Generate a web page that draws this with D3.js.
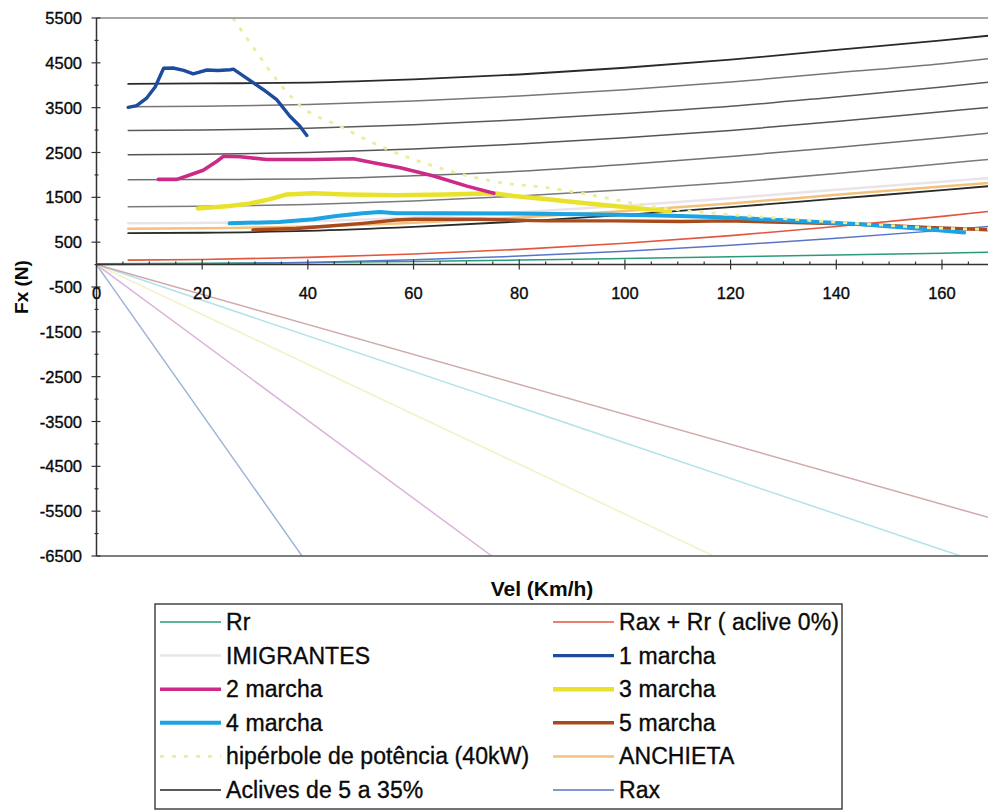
<!DOCTYPE html>
<html>
<head>
<meta charset="utf-8">
<script src="https://cdn.jsdelivr.net/npm/d3@7/dist/d3.min.js"></script>
<style>
  body { margin: 0; background: #fff; }
  svg { display: block; }
  text { font-family: "Liberation Sans", Arial, sans-serif; fill: #0a0a0a; }
  text.heavy { stroke: #0a0a0a; stroke-width: 0.35px; }
</style>
</head>
<body>
<svg id="chart" width="988" height="812"></svg>
<script>
// ---- Data: tractive force Fx (N) against speed (km/h) ----

// speed grid shared by the grade and resistance curves
const velGrid = [6, 20, 40, 60, 80, 100, 120, 140, 160, 170];

// grade resistance curves, 5% .. 35%
const aclive05 = [700, 710, 750, 840, 960, 1110, 1280, 1470, 1660, 1760];
const aclive10 = [1290, 1300, 1340, 1420, 1530, 1670, 1830, 2030, 2250, 2360];
const aclive15 = [1890, 1895, 1910, 1980, 2080, 2230, 2410, 2610, 2830, 2945];
const aclive20 = [2450, 2460, 2500, 2580, 2690, 2830, 2990, 3190, 3410, 3520];
const aclive25 = [2990, 3000, 3040, 3120, 3230, 3370, 3530, 3740, 3960, 4080];
const aclive30 = [3520, 3530, 3570, 3650, 3760, 3900, 4070, 4280, 4480, 4610];
const aclive35 = [4030, 4040, 4060, 4130, 4240, 4390, 4570, 4790, 5000, 5120];

// road profiles
const imigrantes = [920, 930, 965, 1050, 1170, 1310, 1480, 1670, 1850, 1940];
const anchieta   = [800, 810, 850, 935, 1050, 1195, 1365, 1555, 1740, 1830];

// resistances on level road
const velResist = [0, 20, 40, 60, 80, 100, 120, 140, 160, 170];
const rr   = [20, 30, 45, 70, 100, 135, 175, 215, 255, 278];
const rax  = [0, 12, 48, 107, 190, 298, 430, 585, 763, 860];
const velRaxRr = [6, 20, 40, 60, 80, 100, 120, 140, 160, 170];
const raxRr = [100, 115, 160, 235, 340, 475, 645, 850, 1075, 1200];

// measured traction per gear: [speed, force]
const marcha1 = [[6.0,3507],[7.6,3545],[9.5,3715],[11.1,3960],[12.7,4380],[14.5,4385],[16.5,4330],
  [18.3,4255],[20.9,4340],[23.0,4330],[25.3,4345],[25.9,4360],[28.4,4160],[31.6,3900],[34.1,3680],
  [36.6,3310],[38.5,3085],[39.8,2880]];
const marcha2 = [[11.7,1900],[15.2,1900],[17.1,1975],[20.2,2105],[22.8,2305],[24.0,2415],[27.2,2405],
  [32.2,2345],[41.1,2345],[48.6,2360],[52.4,2270],[57.5,2160],[63.8,1975],[70.1,1750],[75.2,1590]];
const marcha3 = [[19.2,1250],[25.2,1305],[28.9,1360],[32.7,1455],[36.0,1565],[40.9,1590],[47.3,1565],
  [56.7,1545],[66.3,1565],[75.2,1590],[78.9,1530],[85.3,1455],[91.6,1380],[97.9,1305],[104.2,1235],
  [108.5,1190]];
const marcha4 = [[25.2,920],[34.6,950],[41.0,1010],[45.4,1085],[50.4,1145],[53.6,1175],[56.7,1145],
  [66.3,1145],[78.9,1140],[91.6,1120],[104.2,1100],[110.5,1085],[119.4,1050],[132.0,975],[144.6,900],
  [157.2,790],[164.2,715]];
const marcha5 = [[29.6,775],[37.8,805],[44.1,860],[50.4,920],[56.7,995],[60.0,1010],[72.6,1010],
  [85.3,975],[97.9,975],[110.5,960],[119.4,975],[132.0,940],[144.6,900],[157.2,830],[170,770]];

// constant power curve (40 kW)
const hiperbole = [[25.8,5500],[30,4790],[34.1,4120],[38.5,3550],[46.1,3085],[53.7,2640],[63.8,2195],
  [76.4,1830],[85.3,1715],[97.9,1455],[104.2,1310],[118,1135],[132,1010],[145,910],[157.2,825],[170,780]];

// straight lines through the origin (end points inside the plot)
const retaFim = [[38.9,-6500],[74.8,-6500],[116.8,-6500],[163.5,-6500],[170,-5680]];

// axis ticks
const xTicks = [0, 20, 40, 60, 80, 100, 120, 140, 160];
const yTicks = [5500, 4500, 3500, 2500, 1500, 500, -500, -1500, -2500, -3500, -4500, -5500, -6500];

// legend entries: left column then right column
const legendLeft  = ["Rr", "IMIGRANTES", "2 marcha", "4 marcha", "hipérbole de potência (40kW)", "Aclives de 5 a 35%"];
const legendRight = ["Rax + Rr ( aclive 0%)", "1 marcha", "3 marcha", "5 marcha", "ANCHIETA", "Rax"];

// ---- Styles ----
const styles = {
  "Rr": { color: "#2a9a7c", width: 1.5 },
  "Rax + Rr ( aclive 0%)": { color: "#e2553e", width: 1.6 },
  "IMIGRANTES": { color: "#ebe3ea", width: 2.5 },
  "1 marcha": { color: "#1d4c9e", width: 3.4 },
  "2 marcha": { color: "#cc2a86", width: 3.6 },
  "3 marcha": { color: "#e9e22c", width: 4.5 },
  "4 marcha": { color: "#1ba3e2", width: 4 },
  "5 marcha": { color: "#a94a1c", width: 3.4 },
  "hipérbole de potência (40kW)": { color: "#ecec9c", width: 2.8, dash: "4,8" },
  "ANCHIETA": { color: "#f2c27c", width: 2.5 },
  "Aclives de 5 a 35%": { color: "#222", width: 1.6 },
  "Rax": { color: "#5a74c8", width: 1.5 }
};
const acliveColors = ["#2a2a2a", "#7a7a7a", "#707070", "#555", "#5a5a5a", "#777", "#2a2a2a"];
const retaColors = ["#9fb4da", "#dbb4da", "#f2f2c4", "#b2e2ea", "#cfaaaa"];

// ---- Chart ----
const svg = d3.select("#chart");
const x = d3.scaleLinear().domain([0, 170]).range([96.5, 994.8]);
const y = d3.scaleLinear().domain([-6500, 5500]).range([556, 18]);

svg.append("defs").append("clipPath").attr("id", "plotClip")
  .append("rect").attr("x", x(0)).attr("y", y(5500)).attr("width", x(170) - x(0)).attr("height", y(-6500) - y(5500));

const plot = svg.append("g").attr("clip-path", "url(#plotClip)");

const line = d3.line().x(d => x(d[0])).y(d => y(d[1]));
const smooth = d3.line().x(d => x(d[0])).y(d => y(d[1])).curve(d3.curveMonotoneX);

function draw(data, st, gen) {
  plot.append("path").datum(data)
    .attr("d", gen || line)
    .attr("fill", "none")
    .attr("stroke", st.color)
    .attr("stroke-width", st.width)
    .attr("stroke-linejoin", "round")
    .attr("stroke-linecap", st.dash ? "butt" : "round")
    .attr("stroke-dasharray", st.dash || null);
}

// straight lines from the origin
retaFim.forEach((p, i) => draw([[0, 0], p], { color: retaColors[i], width: 1.5 }));

// level-road resistances
draw(d3.zip(velResist, rr), styles["Rr"], smooth);
draw(d3.zip(velResist, rax), styles["Rax"], smooth);
draw(d3.zip(velRaxRr, raxRr), styles["Rax + Rr ( aclive 0%)"], smooth);

// road profiles
draw(d3.zip(velGrid, imigrantes), styles["IMIGRANTES"], smooth);
draw(d3.zip(velGrid, anchieta), styles["ANCHIETA"], smooth);

// grade curves
[aclive05, aclive10, aclive15, aclive20, aclive25, aclive30, aclive35].forEach((vals, i) => {
  draw(d3.zip(velGrid, vals), { color: acliveColors[i], width: (i === 0 || i === 6) ? 1.8 : 1.5 }, smooth);
});

// gears
draw(marcha5, styles["5 marcha"]);
draw(marcha4, styles["4 marcha"]);
draw(marcha3, styles["3 marcha"]);
draw(marcha2, styles["2 marcha"]);
draw(marcha1, styles["1 marcha"]);

// power hyperbola
draw(hiperbole, styles["hipérbole de potência (40kW)"], smooth);

// ---- Frame and axes ----
const axes = svg.append("g");
axes.append("line").attr("x1", x(0)).attr("x2", x(170)).attr("y1", y(5500)).attr("y2", y(5500))
  .attr("stroke", "#8a8a8a").attr("stroke-width", 1.5);
axes.append("line").attr("x1", x(0)).attr("x2", x(170)).attr("y1", y(-6500)).attr("y2", y(-6500))
  .attr("stroke", "#555").attr("stroke-width", 1.6);
axes.append("line").attr("x1", x(0)).attr("x2", x(0)).attr("y1", y(5500)).attr("y2", y(-6500))
  .attr("stroke", "#333").attr("stroke-width", 1.5);
axes.append("line").attr("x1", x(0)).attr("x2", x(170)).attr("y1", y(0)).attr("y2", y(0))
  .attr("stroke", "#333").attr("stroke-width", 1.5);

// x ticks: major every 20, minor every 5
d3.range(5, 170, 5).forEach(v => {
  const major = v % 20 === 0;
  axes.append("line").attr("x1", x(v)).attr("x2", x(v))
    .attr("y1", y(0) - (major ? 5 : 3)).attr("y2", y(0) + (major ? 5 : 0))
    .attr("stroke", "#333").attr("stroke-width", 1.2);
});
// y ticks: major every 1000, minor halfway
d3.range(-6500, 5501, 500).forEach(v => {
  const major = yTicks.includes(v);
  axes.append("line").attr("x1", x(0) - (major ? 5 : 2)).attr("x2", x(0) + (major ? 4 : 2))
    .attr("y1", y(v)).attr("y2", y(v))
    .attr("stroke", "#333").attr("stroke-width", 1.2);
});

axes.selectAll("text.xl").data(xTicks).join("text").attr("class", "xl heavy")
  .attr("x", d => x(d)).attr("y", y(0) + 34)
  .attr("text-anchor", "middle").style("font-size", "16.5px").text(d => d);

axes.selectAll("text.yl").data(yTicks).join("text").attr("class", "yl heavy")
  .attr("x", 82).attr("y", d => y(d) + 6)
  .attr("text-anchor", "end").style("font-size", "16.5px").text(d => d);

svg.append("text").attr("transform", "translate(28,287) rotate(-90)")
  .attr("text-anchor", "middle").style("font-size", "19px").style("font-weight", "bold").text("Fx (N)");
svg.append("text").attr("x", 542).attr("y", 596)
  .attr("text-anchor", "middle").style("font-size", "21px").style("font-weight", "bold").text("Vel (Km/h)");

// ---- Legend ----
const lg = svg.append("g");
lg.append("rect").attr("x", 155).attr("y", 604).attr("width", 687).attr("height", 205)
  .attr("fill", "#fff").attr("stroke", "#444").attr("stroke-width", 1.5);

function legendItem(name, i, x1, x2, tx) {
  const st = styles[name];
  const yy = 622 + i * 33.6;
  lg.append("line").attr("x1", x1).attr("x2", x2).attr("y1", yy).attr("y2", yy)
    .attr("stroke", st.color).attr("stroke-width", Math.max(st.width, 1.5))
    .attr("stroke-dasharray", st.dash || null);
  lg.append("text").attr("class", "heavy").attr("x", tx).attr("y", yy + 8)
    .style("font-size", "23px").style("letter-spacing", "0.1px").text(name);
}
legendLeft.forEach((n, i) => legendItem(n, i, 160, 221, 226));
legendRight.forEach((n, i) => legendItem(n, i, 553, 614, 619));
</script>
</body>
</html>
